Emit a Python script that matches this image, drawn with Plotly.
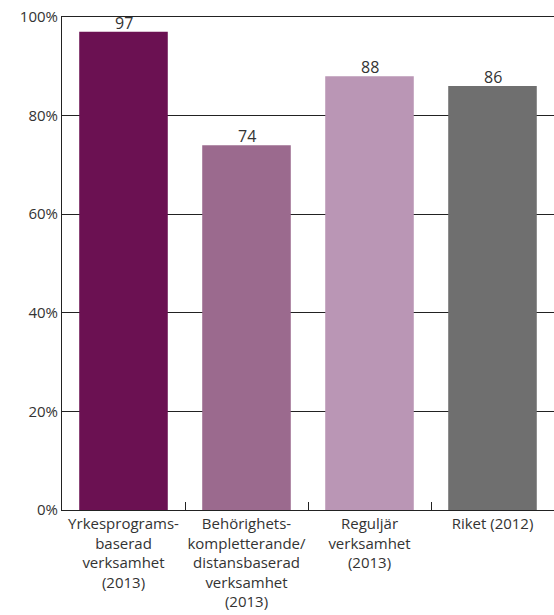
import plotly.graph_objects as go

categories = [
    "Yrkesprograms-<br>baserad<br>verksamhet<br>(2013)",
    "Behörighets-<br>kompletterande/<br>distansbaserad<br>verksamhet<br>(2013)",
    "Reguljär<br>verksamhet<br>(2013)",
    "Riket (2012)",
]
values = [97, 74, 88, 86]
colors = ["#6B1152", "#9B6A8E", "#BA96B5", "#6F6F6F"]
y_ticks = [0, 20, 40, 60, 80, 100]
y_tick_labels = ["0%", "20%", "40%", "60%", "80%", "100%"]

font = dict(family="Open Sans, Noto Sans, sans-serif", size=16, color="#333333")

fig = go.Figure(go.Bar(
    x=categories, y=values, marker=dict(color=colors, line=dict(width=0)),
    width=0.72, hoverinfo="x+y",
))
for cat, v in zip(categories, values):
    fig.add_annotation(
        x=cat, y=v, text=str(v), showarrow=False, yanchor="bottom",
        yshift=-4, font=dict(size=16, color="#333333"),
    )
fig.update_layout(
    width=554, height=615,
    margin=dict(l=62, r=0, t=17, b=105),
    plot_bgcolor="white", paper_bgcolor="white",
    font=font, showlegend=False,
    bargap=0.28,
)
fig.update_xaxes(
    showline=True, linecolor="#222222", linewidth=1, mirror=True,
    ticks="inside", tickson="boundaries", ticklen=8, tickcolor="#222222",
    showgrid=False, tickangle=0, automargin=False,
    tickfont=dict(size=15), ticklabeloverflow="allow",
)
fig.update_yaxes(
    range=[0, 100], tickmode="array", tickvals=y_ticks, ticktext=y_tick_labels,
    showline=True, linecolor="#222222", linewidth=1,
    showgrid=True, gridcolor="#222222", gridwidth=1,
    zeroline=False, ticks="", automargin=False, ticklabeloverflow="allow",
    tickfont=dict(size=15),
)
fig.write_html("out.html", config={"displayModeBar": False},
               post_script="document.body.style.margin='0';")
